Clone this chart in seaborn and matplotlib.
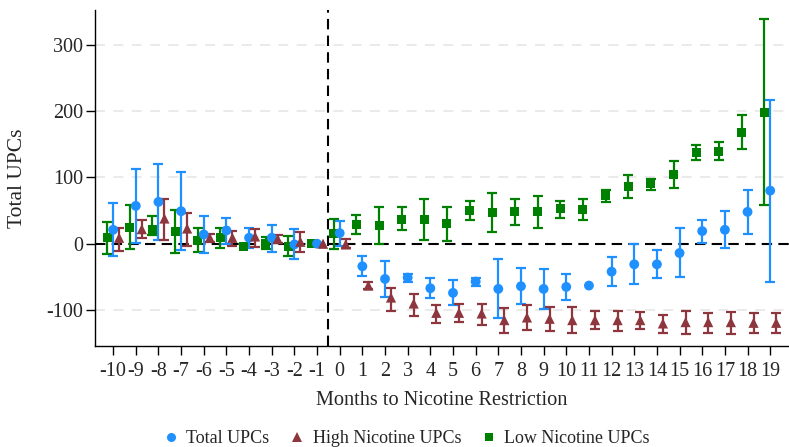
import numpy as np
import pandas as pd
import matplotlib
matplotlib.use("Agg")
import matplotlib.pyplot as plt
from matplotlib.lines import Line2D
import seaborn as sns

# Event-study estimates by month relative to the nicotine restriction
months = list(range(-10, 20))

total = [21, 57, 63, 49, 14, 20, 9, 9, -1, 0, 16, -34, -53, -51, -67, -74, -57, -68, -64, -68,
         -65, -63, -42, -31, -31, -14, 19, 21, 48, 80]
total_lo = [-19, 1, 6, -9, -14, -1, -7, -12, -23, 0, -3, -49, -80, -58, -82, -93, -63, -112, -90, -99,
            -85, -63, -64, -61, -52, -50, 1, -7, 15, -57]
total_hi = [62, 113, 120, 108, 42, 39, 23, 28, 22, 0, 34, -19, -26, -46, -52, -54, -52, -23, -37, -38,
            -46, -63, -20, 0, -10, 23, 36, 49, 81, 216]

high = [9, 22, 38, 23, 9, 9, 11, 7, 3, 0, -1, -63, -81, -90, -104, -104, -105, -115, -111, -113,
        -115, -115, -115, -115, -120, -118, -118, -118, -119, -119]
high_lo = [-11, 8, 6, -4, 3, -4, -5, 1, -13, 0, -7, -68, -101, -109, -119, -118, -122, -134, -130, -132,
           -135, -129, -132, -129, -135, -136, -134, -136, -135, -135]
high_hi = [24, 35, 67, 46, 15, 19, 22, 13, 17, 0, 7, -58, -66, -76, -92, -91, -90, -97, -93, -96,
           -96, -102, -101, -103, -108, -102, -104, -103, -105, -105]

low = [9, 24, 21, 18, 5, 9, -4, 1, -4, 0, 15, 29, 27, 37, 36, 30, 50, 47, 48, 48,
       53, 52, 72, 86, 91, 105, 138, 139, 168, 198]
low_lo = [-16, -8, 13, -14, -13, -7, -4, -8, -19, 0, -8, 15, -1, 20, 5, 4, 35, 17, 28, 24,
          39, 36, 63, 69, 81, 84, 126, 126, 142, 59]
low_hi = [33, 58, 42, 51, 23, 24, -4, 10, 12, 0, 37, 43, 55, 56, 68, 55, 65, 76, 67, 72,
          65, 68, 81, 103, 98, 125, 149, 153, 194, 339]

series_names = ["Total UPCs", "High Nicotine UPCs", "Low Nicotine UPCs"]
y_ticks = [-100, 0, 100, 200, 300]

sns.set_theme(style="ticks")
plt.rcParams["font.family"] = ["Liberation Serif", "DejaVu Serif"]
plt.rcParams["axes.unicode_minus"] = False

frames = []
for name, v, lo, hi in [(series_names[0], total, total_lo, total_hi),
                        (series_names[1], high, high_lo, high_hi),
                        (series_names[2], low, low_lo, low_hi)]:
    frames.append(pd.DataFrame({"month": months, "series": name,
                                "value": v, "lo": lo, "hi": hi}))
df = pd.concat(frames, ignore_index=True)

style = {
    "Total UPCs": dict(color="#1E90FF", marker="o", s=50, offset=0.0),
    "High Nicotine UPCs": dict(color="#8E363D", marker="^", s=54, offset=0.265),
    "Low Nicotine UPCs": dict(color="#008000", marker="s", s=42, offset=-0.265),
}
df["x"] = df["month"] + df["series"].map({k: v["offset"] for k, v in style.items()})

fig = plt.figure(figsize=(7.89, 4.47), dpi=100)
ax = fig.add_axes([95 / 789, 1 - 346 / 447, 1 - 95 / 789, (346 - 10) / 447])

# reference lines
for yt in y_ticks:
    if yt != 0:
        ax.axhline(yt, color="#E6E6E6", lw=1.2, ls=(0, (6, 5)), zorder=0)
ax.axhline(0, color="black", lw=1.5, ls=(0, (5, 3)), zorder=1)
ax.axvline(-0.5, color="black", lw=1.5, ls=(0, (5, 3)), zorder=1)

for name in ["Low Nicotine UPCs", "Total UPCs", "High Nicotine UPCs"]:
    st = style[name]
    sub = df[df["series"] == name]
    eb = sub[sub["hi"] != sub["lo"]]
    ax.errorbar(eb["x"], eb["value"], yerr=[eb["value"] - eb["lo"], eb["hi"] - eb["value"]],
                fmt="none", ecolor=st["color"], elinewidth=1.6, capsize=3.6, capthick=1.6,
                zorder=2)
    sns.scatterplot(data=sub, x="x", y="value", color=st["color"], marker=st["marker"],
                    s=st["s"], edgecolor="none", linewidth=0, ax=ax, legend=False, zorder=3)

ax.set_xlim(-10.8, 19.83)
ax.set_ylim(-154, 352)
ax.set_xticks(months)
ax.set_xticklabels([str(m) for m in months])
ax.set_yticks(y_ticks)
ax.set_yticklabels([str(t) for t in y_ticks])
ax.tick_params(axis="both", labelsize=14.5, length=6.5, width=1, color="black")
ax.tick_params(axis="x", pad=5)
ax.tick_params(axis="y", pad=2)
ax.set_xlabel("Months to Nicotine Restriction", fontsize=14.6, labelpad=7)
ax.set_ylabel("Total UPCs", fontsize=15.5, labelpad=14)
for sp in ["top", "right"]:
    ax.spines[sp].set_visible(False)
for sp in ["left", "bottom"]:
    ax.spines[sp].set_color("black")
    ax.spines[sp].set_linewidth(1.0)

handles = [
    Line2D([], [], ls="none", marker="o", color=style["Total UPCs"]["color"], markersize=6.5,
           markeredgewidth=0),
    Line2D([], [], ls="none", marker="^", color=style["High Nicotine UPCs"]["color"], markersize=7,
           markeredgewidth=0),
    Line2D([], [], ls="none", marker="s", color=style["Low Nicotine UPCs"]["color"], markersize=6,
           markeredgewidth=0),
]
fig.legend(handles, series_names, loc="center", bbox_to_anchor=(0.5155, 0.019), ncol=3,
           frameon=False, fontsize=13, handlelength=0.8, handletextpad=0.45, columnspacing=1.15)

fig.savefig("out.png", dpi=100)
